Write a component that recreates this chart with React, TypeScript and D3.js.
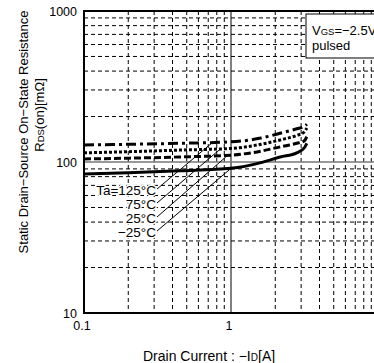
import * as d3 from 'd3';

const currentA = [0.1, 0.2, 0.45, 1, 1.6, 2.16, 2.8, 3.15, 3.28];
const rdsTa125 = [129.6, 131, 133, 136, 144, 155, 166, 172, 178];
const rdsTa75 = [115, 117, 120, 123, 131, 140, 150, 158, 168];
const rdsTa25 = [104.7, 106, 108, 111, 118, 126, 133, 138, 147];
const rdsTaM25 = [83.3, 85, 87.6, 90.8, 99, 108, 115, 124, 133];

const tempLabels = ['Ta=125°C', '75°C', '25°C', '\u221225°C'];
const leaderCurrent = [0.75, 0.85, 0.95, 1.0];
const xTicks = [0.1, 1];
const yTicks = [10, 100, 1000];

const FONT = '"Liberation Sans", Arial, sans-serif';

export default function App() {
  const left = 84;
  const right = 378;
  const top = 11;
  const bottom = 313;
  const x = d3.scaleLog().domain([0.1, 10]).range([left, right]);
  const y = d3.scaleLog().domain([10, 1000]).range([bottom, top]);

  const minorX: number[] = [];
  const minorY: number[] = [];
  for (const base of [0.1, 1]) for (let k = 2; k <= 9; k++) minorX.push(base * k);
  for (const base of [10, 100]) for (let k = 2; k <= 9; k++) minorY.push(base * k);

  const line = d3
    .line<number>()
    .x((_, i) => x(currentA[i]))
    .y((d) => y(d))
    .curve(d3.curveMonotoneX);

  const series = [
    { values: rdsTa125, dash: '10,4,3,4' },
    { values: rdsTa75, dash: '3,2' },
    { values: rdsTa25, dash: '7,3' },
    { values: rdsTaM25, dash: null },
  ];

  // value on a curve at a given current, log-linear between points
  const valueAt = (values: number[], c: number) => {
    const i = Math.max(1, d3.bisectLeft(currentA, c));
    const t = (Math.log(c) - Math.log(currentA[i - 1])) / (Math.log(currentA[i]) - Math.log(currentA[i - 1]));
    return Math.exp(Math.log(values[i - 1]) + t * (Math.log(values[i]) - Math.log(values[i - 1])));
  };

  const labelBase = [195, 209, 223, 237];

  return (
    <svg width={374} height={363} style={{ position: 'absolute', left: 0, top: 0, fontFamily: FONT }}>
      <rect width={374} height={363} fill="#fff" />
      <defs>
        <clipPath id="plot">
          <rect x={left} y={top} width={right - left} height={bottom - top} />
        </clipPath>
      </defs>
      <g stroke="#000" strokeWidth={1} strokeDasharray="4,3">
        {minorX.map((v) => (
          <line key={'x' + v} x1={x(v)} x2={x(v)} y1={top} y2={bottom} />
        ))}
        {minorY.map((v) => (
          <line key={'y' + v} x1={left} x2={right} y1={y(v)} y2={y(v)} />
        ))}
      </g>
      <line x1={x(1)} x2={x(1)} y1={top} y2={bottom} stroke="#000" strokeWidth={1} />
      <line x1={left} x2={right} y1={y(100)} y2={y(100)} stroke="#777" strokeWidth={1.5} />

      <g clipPath="url(#plot)" fill="none" stroke="#000" strokeWidth={3}>
        {series.map((s, i) => (
          <path key={i} d={line(s.values) ?? ''} strokeDasharray={s.dash ?? undefined} />
        ))}
      </g>

      <rect x={306} y={14} width={80} height={44} fill="#fff" stroke="#000" strokeWidth={1} />
      <text x={312} y={35} fontSize={13}>
        V<tspan fontSize={9.5}>GS</tspan>=−2.5V
      </text>
      <text x={312} y={50} fontSize={13}>
        pulsed
      </text>

      <rect x={left} y={top} width={right - left} height={bottom - top} fill="none" stroke="#000" strokeWidth={2} />

      {tempLabels.map((t, i) => {
        const vals = series[i].values;
        const c = leaderCurrent[i];
        return (
          <g key={t}>
            <text x={156} y={labelBase[i]} fontSize={13.5} textAnchor="end" fill="#000" stroke="#fff" strokeWidth={3} paintOrder="stroke">
              {t}
            </text>
            <line x1={157} y1={labelBase[i] - 6} x2={x(c)} y2={y(valueAt(vals, c))} stroke="#000" strokeWidth={1} />
          </g>
        );
      })}

      {yTicks.map((v) => (
        <text key={v} x={77} y={y(v) + 4.5} fontSize={12.5} textAnchor="end">
          {v}
        </text>
      ))}
      {xTicks.map((v) => (
        <text key={v} x={x(v) - 2} y={330} fontSize={12.5} textAnchor="middle">
          {v}
        </text>
      ))}

      <text x={143} y={361} fontSize={14}>
        Drain Current : −I<tspan fontSize={10}>D</tspan>[A]
      </text>
      <text transform="translate(28,132) rotate(-90)" fontSize={13} textAnchor="middle">
        Static Drain−Source On−State Resistance
      </text>
      <text transform="translate(44,115) rotate(-90)" fontSize={13} textAnchor="middle">
        R<tspan fontSize={9.5}>DS</tspan>(on)[mΩ]
      </text>
    </svg>
  );
}
